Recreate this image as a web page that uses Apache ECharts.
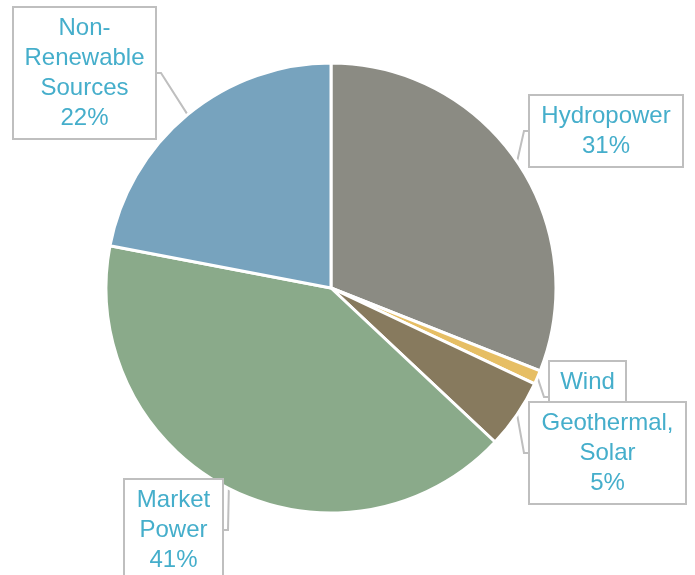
<!DOCTYPE html>
<html>
<head>
<meta charset="utf-8">
<script src="https://cdn.jsdelivr.net/npm/echarts@6/dist/echarts.min.js"></script>
<style>html,body{margin:0;padding:0;background:#fff}#c{width:695px;height:575px}</style>
</head>
<body>
<div id="c"></div>
<script>
const categories = ['Hydropower', 'Wind', 'Geothermal, Solar', 'Market Power', 'Non-Renewable Sources'];
const labelTexts = ['Hydropower\n31%', 'Wind\n1%', 'Geothermal,\nSolar\n5%', 'Market\nPower\n41%', 'Non-\nRenewable\nSources\n22%'];
const values = [31, 1, 5, 41, 22];
const colors = ['#8B8B83', '#E6BE64', '#877A5E', '#8AAA8A', '#77A3BE'];

// label box positions (top-left) and widths
const boxPos = [[530, 96, 142], [550, 362, 65], [530, 403, 145], [125, 480, 87], [14, 8, 131]];

const chart = echarts.init(document.getElementById('c'), null, {renderer: 'canvas'});
const data = categories.map((c, i) => ({
  name: c,
  value: values[i],
  itemStyle: {color: colors[i]},
  label: {formatter: labelTexts[i], width: boxPos[i][2]}
}));
chart.setOption({
  animation: false,
  series: [{
    type: 'pie',
    center: [331, 288],
    radius: 225,
    startAngle: 90,
    clockwise: true,
    data: data,
    itemStyle: {borderColor: '#fff', borderWidth: 3},
    label: {
      show: true,
      color: '#45AECB',
      fontFamily: 'Liberation Sans, Arial, sans-serif',
      fontSize: 24,
      lineHeight: 30,
      align: 'center',
      backgroundColor: '#fff',
      borderColor: '#BFBFBF',
      borderWidth: 2,
      padding: [5, 5]
    },
    labelLine: {show: true, lineStyle: {color: '#BFBFBF', width: 2}, length: 6, length2: 4},
    labelLayout: function (p) {
      const b = boxPos[p.dataIndex];
      return {x: b[0] + b[2] / 2 + 5, y: b[1], align: 'center', verticalAlign: 'top'};
    }
  }]
});
</script>
</body>
</html>
